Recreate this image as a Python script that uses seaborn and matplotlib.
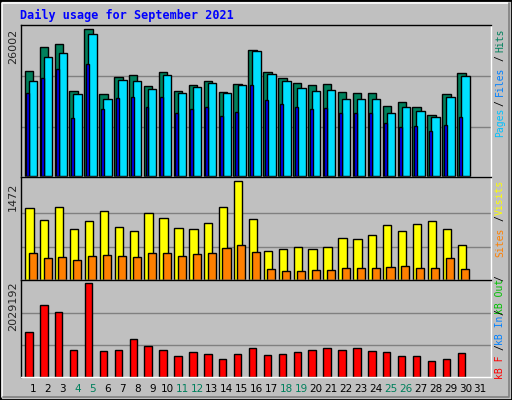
import numpy as np
import seaborn as sns
import matplotlib.pyplot as plt
from matplotlib.patches import Rectangle

days = np.arange(1, 32)
day_labels = [str(d) for d in days]
weekend = [4, 5, 11, 12, 18, 19, 25, 26]

hits = [18593, 22827, 23408, 15065, 26002, 14535, 17534, 17887, 15947, 18416,
        15065, 16123, 16829, 14888, 16299, 22297, 18416, 17358, 16476, 16123,
        16299, 14888, 14712, 14712, 12419, 13124, 12242, 10831, 14535, 18240]
files = [16881, 21115, 21821, 14535, 25172, 13706, 17058, 16881, 15470, 17887,
         14712, 15770, 16476, 14712, 16123, 22121, 18063, 16881, 15594, 15065,
         15241, 13706, 13706, 13706, 11184, 12242, 11537, 10478, 14006, 17711]
pages = [14712, 17358, 18945, 10302, 19827, 11889, 13830, 14006, 12242, 14006,
         11184, 11889, 12242, 10655, 11360, 16123, 13477, 12771, 12242, 11889,
         12066, 11184, 11184, 11184, 9420, 8714, 8891, 8009, 9067, 10478]
visits = [1072, 896, 1088, 752, 880, 1024, 784, 736, 992, 928,
          768, 752, 848, 1088, 1472, 912, 432, 464, 496, 464,
          496, 624, 608, 672, 816, 736, 832, 880, 752, 512]
sites = [400, 320, 336, 288, 352, 368, 352, 336, 400, 400,
         352, 384, 400, 480, 512, 416, 160, 128, 128, 144,
         144, 176, 176, 176, 192, 208, 176, 176, 320, 160]
kbytes = [962754, 1540406, 1407102, 585058, 2029192, 562841, 585058, 807232, 651710, 585058,
          451754, 540623, 496189, 385102, 496189, 629493, 473971, 496189, 540623, 585058,
          629493, 585058, 629493, 562841, 540623, 451754, 451754, 340667, 385102, 518406]

BG = '#c0c0c0'
sns.set_style('white')
plt.rcParams['font.family'] = ['DejaVu Sans']

W, H = 512, 400
fig = plt.figure(figsize=(5.12, 4.0), dpi=100, facecolor=BG)

# outer bevel frame
fig.patches.append(Rectangle((0, 0), 1, 1, transform=fig.transFigure, fill=False,
                             edgecolor='black', linewidth=2))
fig.add_artist(plt.Line2D([2 / W, 2 / W, 509 / W], [3 / H, 397 / H, 397 / H],
                          color='white', lw=1.2, transform=fig.transFigure))
fig.add_artist(plt.Line2D([3 / W, 509 / W, 509 / W], [3 / H, 3 / H, 397 / H],
                          color='#808080', lw=1.2, transform=fig.transFigure))


def panel(y0, y1):
    ax = fig.add_axes([21 / W, 1 - y1 / H, 470 / W, (y1 - y0) / H], facecolor=BG)
    for s in ['left', 'top']:
        ax.spines[s].set_color('black')
    for s in ['right', 'bottom']:
        ax.spines[s].set_color('white')
    for s in ax.spines.values():
        s.set_linewidth(1)
    return ax


def bars(ax, vals, off, width, color):
    x = days[:len(vals)] + off
    sns.barplot(x=x, y=vals, native_scale=True, width=width, color=color,
                edgecolor='black', linewidth=1, saturation=1, errorbar=None,
                orient='x', ax=ax)


def grid(ax, vmax, top):
    for f in (0.335, 0.68):
        ax.axhline(vmax * f, color='#808080', lw=1, zorder=0)
    ax.set_ylim(-vmax * 0.004, vmax * top)
    ax.set_xlim(0.2, 31.72)
    ax.set_xticks([])
    ax.set_yticks([])
    ax.set_xlabel('')
    ax.set_ylabel('')


ax1 = panel(25, 177)
bars(ax1, hits, -0.27, 0.56, '#00805c')
bars(ax1, files, 0.0, 0.56, '#00e0ff')
bars(ax1, pages, -0.35, 0.2, '#0000ff')
grid(ax1, max(hits), 1.028)

ax2 = panel(177, 280)
bars(ax2, visits, -0.24, 0.56, '#ffff00')
bars(ax2, sites, -0.02, 0.54, '#ff8000')
grid(ax2, max(visits), 1.045)

ax3 = panel(280, 377)
bars(ax3, kbytes, -0.27, 0.5, '#ff0000')
grid(ax3, max(kbytes), 1.03)

for d, lab in zip(days, day_labels):
    x = ax3.transData.transform((d, 0))[0] / fig.bbox.width
    fig.text(x, 1 - 389 / H, lab, ha='center', va='center', fontsize=7.5,
             color='#00805c' if d in weekend else 'black')

fig.text(20 / W, 1 - 15 / H, 'Daily usage for September 2021', color='#0000ff',
         fontsize=8.5, fontweight='bold', family='DejaVu Sans Mono', va='center')

for txt, ytop in [(str(max(hits)), 29), (str(max(visits)), 183), (str(max(kbytes)), 281)]:
    fig.text(13 / W, 1 - ytop / H, txt, rotation=90, ha='center', va='top', fontsize=8)

# right side legends (vertical, read bottom to top)
mono = 'DejaVu Sans Mono'
legend = [('Hits', '#00805c', 40), ('/', 'black', 58), ('Files', '#0080ff', 81),
          ('/', 'black', 103), ('Pages', '#00c0ff', 122),
          ('Visits', '#ffff00', 197), ('/', 'black', 218), ('Sites', '#ff8000', 242),
          ('/', 'black', 278), ('kB Out', '#00c000', 296), ('/', 'black', 312),
          ('kB In', '#0080ff', 330), ('/', 'black', 347), ('kB F', '#ff0000', 367)]
for txt, col, yc in legend:
    fig.text(500 / W, 1 - yc / H, txt, rotation=90, ha='center', va='center',
             color=col, fontsize=7, family=mono)

fig.savefig('out.png', dpi=100, facecolor=BG)
